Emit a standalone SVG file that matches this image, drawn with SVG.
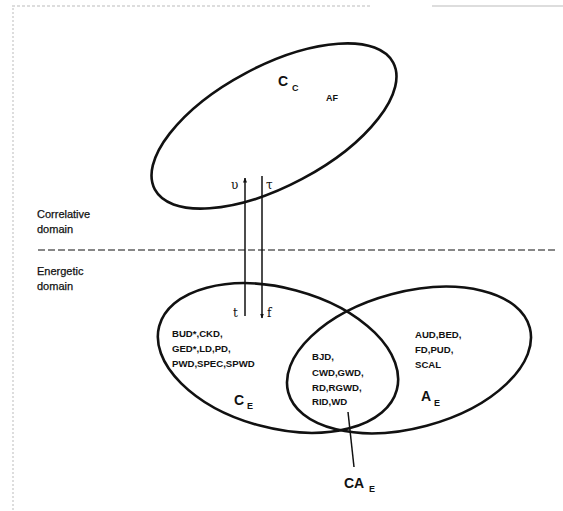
<svg xmlns="http://www.w3.org/2000/svg" width="563" height="511" viewBox="0 0 563 511">
<style>
.set{fill:none;stroke:#111;stroke-width:2.6}
.t{font-family:"Liberation Sans",Arial,sans-serif;font-weight:bold;fill:#111}
.s{font-size:9.6px}
.big{font-size:14px}
.sub{font-size:9px}
.lab{font-family:"Liberation Sans",Arial,sans-serif;font-size:11px;fill:#111;stroke:#111;stroke-width:0.25}
.greek{font-family:"DejaVu Serif","Liberation Serif",serif;font-size:12px;fill:#111}
.conn{stroke:#111;stroke-width:1.5;fill:none}
</style>
<defs>
<marker id="ah" viewBox="0 0 10 10" refX="9" refY="5" markerWidth="5" markerHeight="7" orient="auto" markerUnits="userSpaceOnUse">
<path d="M0,1 L10,5 L0,9 z" fill="#111"/>
</marker>
</defs>
<rect width="563" height="511" fill="#fff"/>
<g id="scan-border" stroke="#bbb" stroke-width="1" fill="none">
<line x1="12" y1="6" x2="370" y2="6" stroke-dasharray="3,2"/>
<line x1="432" y1="6" x2="563" y2="6"/>
<line x1="13" y1="8" x2="13" y2="511" stroke-dasharray="2,2"/>
</g>
<g id="domain-divider">
<line x1="38" y1="250" x2="556" y2="250" stroke="#111" stroke-width="1.2" stroke-dasharray="7,3"/>
<text class="lab" x="37" y="218">Correlative</text>
<text class="lab" x="37" y="233">domain</text>
<text class="lab" x="37" y="275">Energetic</text>
<text class="lab" x="37" y="290">domain</text>
</g>
<g id="CC">
<ellipse class="set" cx="274" cy="126" rx="135" ry="60" transform="rotate(-28 274 126)"/>
<text class="t big" x="278" y="86">C</text>
<text class="t sub" x="292" y="91">C</text>
<text class="t sub" x="326" y="101">AF</text>
</g>
<g id="CE">
<ellipse class="set" cx="278" cy="358" rx="123" ry="70" transform="rotate(15 278 358)"/>
<text class="t s" x="172" y="337">BUD*,CKD,</text>
<text class="t s" x="172" y="352">GED*,LD,PD,</text>
<text class="t s" x="172" y="367">PWD,SPEC,SPWD</text>
<text class="t big" x="234" y="405">C</text>
<text class="t sub" x="247" y="409">E</text>
</g>
<g id="AE">
<ellipse class="set" cx="409" cy="360" rx="125" ry="68" transform="rotate(-15 409 360)"/>
<text class="t s" x="415" y="338">AUD,BED,</text>
<text class="t s" x="415" y="353">FD,PUD,</text>
<text class="t s" x="415" y="368">SCAL</text>
<text class="t big" x="421" y="401">A</text>
<text class="t sub" x="434" y="406">E</text>
</g>
<g id="CAE">
<text class="t s" x="312" y="360">BJD,</text>
<text class="t s" x="312" y="376">CWD,GWD,</text>
<text class="t s" x="312" y="391">RD,RGWD,</text>
<text class="t s" x="312" y="405">RID,WD</text>
<text class="t big" x="344" y="488">CA</text>
<text class="t sub" x="369" y="492">E</text>
</g>
<g id="connectors">
<line class="conn" x1="245" y1="316" x2="245" y2="178" marker-end="url(#ah)"/>
<line class="conn" x1="262" y1="176" x2="262" y2="318" marker-end="url(#ah)"/>
<line class="conn" x1="348" y1="412" x2="354" y2="467"/>
<text class="greek" x="231" y="189">υ</text>
<text class="greek" x="266" y="189">τ</text>
<text class="greek" x="233" y="317">t</text>
<text class="greek" x="267" y="317">f</text>
</g>
</svg>
